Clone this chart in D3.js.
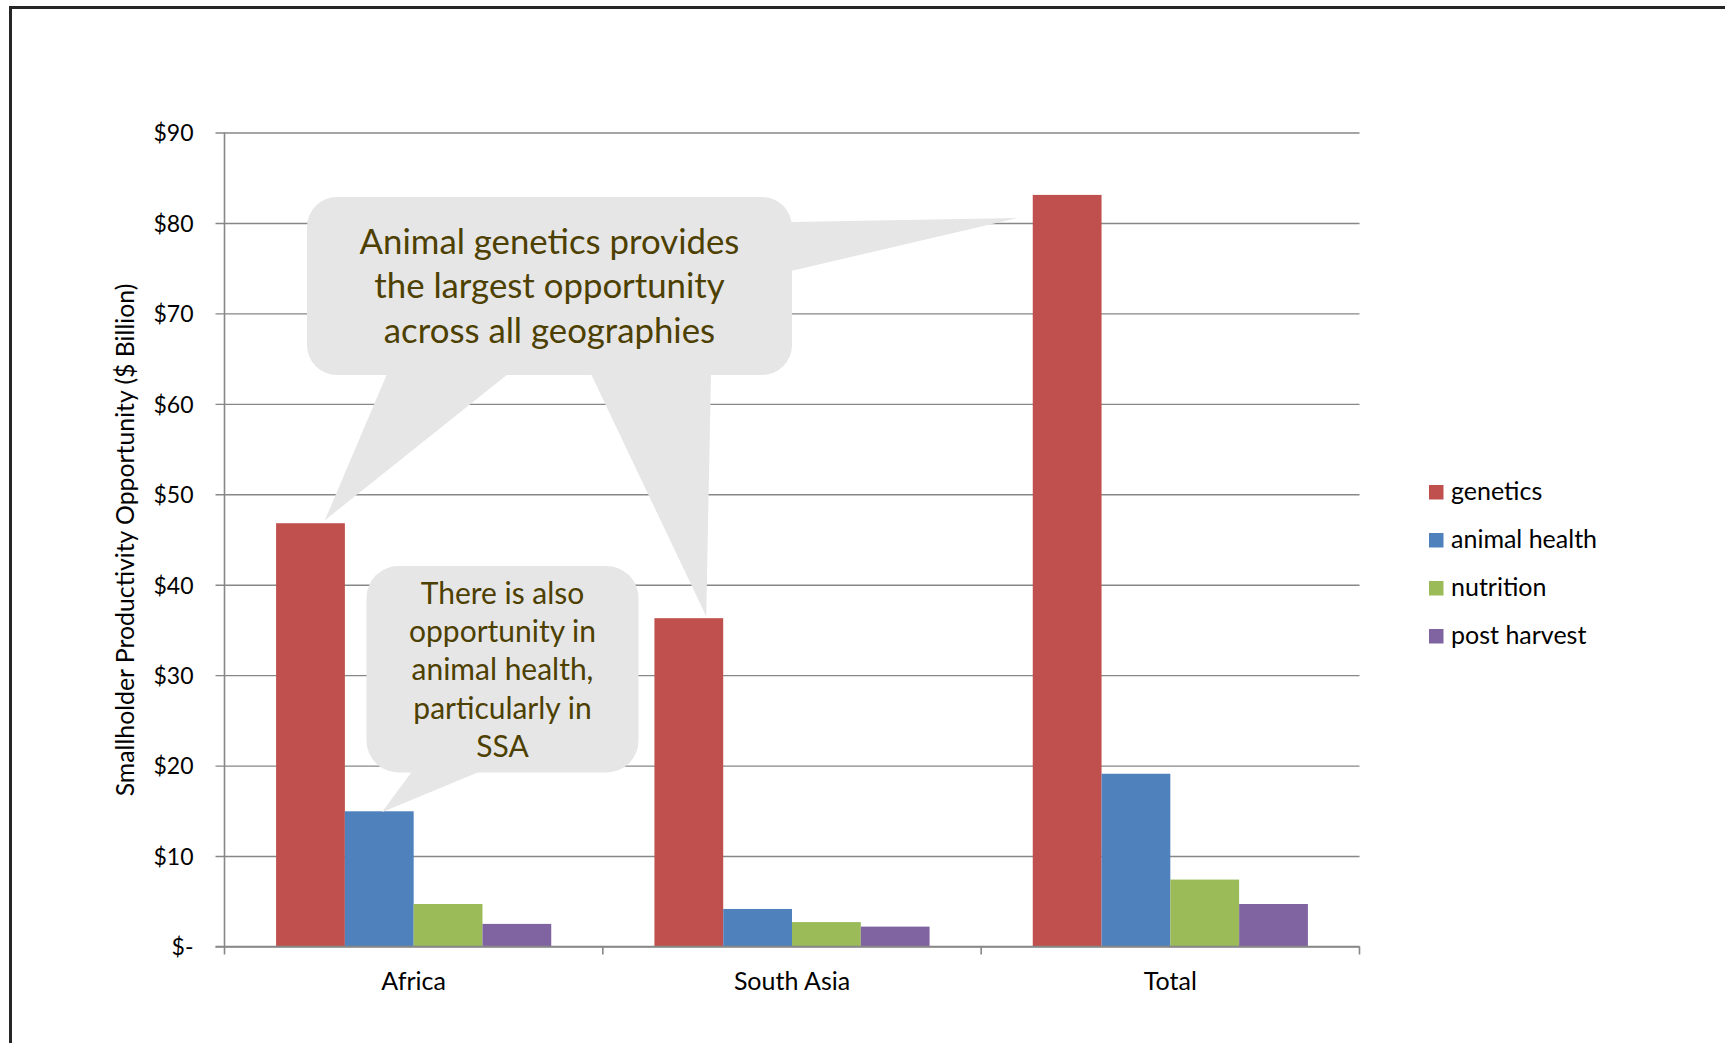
<!DOCTYPE html>
<html>
<head>
<meta charset="utf-8">
<script src="https://cdn.jsdelivr.net/npm/d3@7"></script>
<style>
  html, body { margin: 0; padding: 0; background: #ffffff; }
  svg { display: block; }
  text { font-family: Lato, "Open Sans", sans-serif; }
</style>
</head>
<body>
<svg id="chart" width="1725" height="1043"></svg>
<script>
// ---- data ----
const categories = ["Africa", "South Asia", "Total"];
const seriesNames = ["genetics", "animal health", "nutrition", "post harvest"];
const genetics = [46.8, 36.3, 83.1];
const animalHealth = [14.95, 4.15, 19.1];
const nutrition = [4.7, 2.7, 7.4];
const postHarvest = [2.5, 2.2, 4.7];
const seriesColors = ["#C0504D", "#4F81BD", "#9BBB59", "#8064A2"];
const yTickValues = [0, 10, 20, 30, 40, 50, 60, 70, 80, 90];
const yTickLabels = ["$-", "$10", "$20", "$30", "$40", "$50", "$60", "$70", "$80", "$90"];
const yAxisTitle = "Smallholder Productivity Opportunity ($ Billion)";
const mainCalloutLines = ["Animal genetics provides", "the largest opportunity", "across all geographies"];
const healthCalloutLines = ["There is also", "opportunity in", "animal health,", "particularly in", "SSA"];

const seriesValues = [genetics, animalHealth, nutrition, postHarvest];

// ---- layout ----
const W = 1725, H = 1043;
const plot = { left: 224.5, right: 1359.5, top: 132.5, bottom: 946.5 };
const FONT = "Lato, 'Open Sans', sans-serif";
const calloutFill = "#E6E6E6";
const calloutText = "#4D4000";
const gridColor = "#878787";

const svg = d3.select("#chart");

// outer chart-area frame (right and bottom edges run off the page)
svg.append("rect")
  .attr("x", 10.5).attr("y", 7.5)
  .attr("width", W + 20).attr("height", H + 20)
  .attr("fill", "none").attr("stroke", "#262626").attr("stroke-width", 3);

const x0 = d3.scaleBand().domain(categories)
  .range([plot.left, plot.right]).paddingInner(0).paddingOuter(0);
const x1 = d3.scaleBand().domain(seriesNames)
  .range([0, x0.bandwidth()]).paddingInner(0).paddingOuter(0.75);
const y = d3.scaleLinear().domain([0, 90]).range([plot.bottom, plot.top]);

// measure helper for fitting text to a width
function fitSize(str, target) {
  const t = svg.append("text").attr("font-family", FONT).attr("font-size", 100).text(str);
  const len = t.node().getComputedTextLength();
  t.remove();
  return 100 * target / len;
}

// ---- gridlines + y axis ----
const yAxis = d3.axisLeft(y)
  .tickValues(yTickValues)
  .tickFormat((d, i) => yTickLabels[i])
  .tickSize(-(plot.right - plot.left) - 9)
  .tickPadding(22);

const gy = svg.append("g")
  .attr("transform", `translate(${plot.right},0)`)
  .call(yAxis);
gy.select(".domain").remove();
gy.selectAll(".tick line")
  .attr("x1", 0).attr("x2", -(plot.right - plot.left) - 9)
  .attr("stroke", gridColor).attr("stroke-width", 1.4);
gy.selectAll(".tick text")
  .attr("x", -(plot.right - plot.left) - 31)
  .attr("font-family", FONT).attr("font-size", 23).attr("fill", "#000")
  .attr("text-anchor", "end").attr("dy", "0.36em");

// vertical axis line
svg.append("line")
  .attr("x1", plot.left).attr("x2", plot.left)
  .attr("y1", plot.top).attr("y2", plot.bottom)
  .attr("stroke", gridColor).attr("stroke-width", 1.6);

// ---- bars ----
const groups = svg.append("g").selectAll("g")
  .data(categories).join("g")
  .attr("transform", d => `translate(${x0(d)},0)`);

groups.selectAll("rect")
  .data((c, ci) => seriesNames.map((s, si) => ({ s, si, v: seriesValues[si][ci] })))
  .join("rect")
  .attr("x", d => x1(d.s))
  .attr("width", x1.bandwidth())
  .attr("y", d => y(d.v))
  .attr("height", d => y(0) - y(d.v))
  .attr("fill", d => seriesColors[d.si]);

// ---- category axis ----
const xAxis = d3.axisBottom(x0).tickSize(0).tickPadding(25.5);
const gx = svg.append("g").attr("transform", `translate(0,${plot.bottom})`).call(xAxis);
gx.select(".domain").remove();
gx.selectAll(".tick text")
  .attr("font-family", FONT).attr("font-size", 25).attr("fill", "#000");

svg.append("line")
  .attr("x1", plot.left - 9).attr("x2", plot.right)
  .attr("y1", plot.bottom).attr("y2", plot.bottom)
  .attr("stroke", gridColor).attr("stroke-width", 1.6);

// tick marks at category boundaries
const boundaries = categories.map(c => x0(c)).concat([x0(categories[categories.length - 1]) + x0.bandwidth()]);
svg.append("g").selectAll("line").data(boundaries).join("line")
  .attr("x1", d => d).attr("x2", d => d)
  .attr("y1", plot.bottom).attr("y2", plot.bottom + 8)
  .attr("stroke", gridColor).attr("stroke-width", 1.6);

// ---- y axis title ----
svg.append("text")
  .attr("transform", `translate(125,540) rotate(-90)`)
  .attr("text-anchor", "middle")
  .attr("dy", "0.35em")
  .attr("font-family", FONT)
  .attr("font-size", fitSize(yAxisTitle, 513))
  .attr("fill", "#000")
  .text(yAxisTitle);

// ---- callouts ----
function roundedRect(x, yy, w, h, r) {
  return `M${x + r},${yy}H${x + w - r}A${r},${r} 0 0 1 ${x + w},${yy + r}` +
    `V${yy + h - r}A${r},${r} 0 0 1 ${x + w - r},${yy + h}` +
    `H${x + r}A${r},${r} 0 0 1 ${x},${yy + h - r}V${yy + r}A${r},${r} 0 0 1 ${x + r},${yy}Z`;
}
function tri(a, b, c) { return `M${a[0]},${a[1]}L${b[0]},${b[1]}L${c[0]},${c[1]}Z`; }

function barLeft(cat, ser) { return x0(cat) + x1(ser); }
const bw = x1.bandwidth();

// main callout
const mc = { x: 307, y: 197, w: 485, h: 178, r: 30 };
const layerMain = svg.append("g");
const tipA = [barLeft("Africa", "genetics") + bw - 20, y(genetics[0]) - 3];
const tipB = [barLeft("South Asia", "genetics") + bw - 17, y(genetics[1]) - 2];
const tipC = [barLeft("Total", "genetics") - 15, y(genetics[2]) + 23];
layerMain.append("path").attr("d", tri([387, mc.y + mc.h - 1], [508, mc.y + mc.h - 1], tipA)).attr("fill", calloutFill);
layerMain.append("path").attr("d", tri([591, mc.y + mc.h - 1], [711, mc.y + mc.h - 1], tipB)).attr("fill", calloutFill);
layerMain.append("path").attr("d", tri([mc.x + mc.w - 1, 222], [mc.x + mc.w - 1, 271], tipC)).attr("fill", calloutFill);
layerMain.append("path").attr("d", roundedRect(mc.x, mc.y, mc.w, mc.h, mc.r)).attr("fill", calloutFill);
const mainSize = fitSize(mainCalloutLines[0], 380);
layerMain.selectAll("text").data(mainCalloutLines).join("text")
  .attr("x", mc.x + mc.w / 2)
  .attr("y", (d, i) => 254 + i * 44.3)
  .attr("text-anchor", "middle")
  .attr("font-family", FONT).attr("font-size", mainSize)
  .attr("fill", calloutText)
  .text(d => d);

// animal health callout
const hc = { x: 366.5, y: 566, w: 272, h: 206.5, r: 32 };
const layerHealth = svg.append("g");
const tipD = [barLeft("Africa", "animal health") + 37, y(animalHealth[0]) + 1];
layerHealth.append("path").attr("d", tri([412, hc.y + hc.h - 1], [480, hc.y + hc.h - 1], tipD)).attr("fill", calloutFill);
layerHealth.append("path").attr("d", roundedRect(hc.x, hc.y, hc.w, hc.h, hc.r)).attr("fill", calloutFill);
const healthSize = fitSize(healthCalloutLines[1], 187);
layerHealth.selectAll("text").data(healthCalloutLines).join("text")
  .attr("x", hc.x + hc.w / 2)
  .attr("y", (d, i) => 603.5 + i * 38.4)
  .attr("text-anchor", "middle")
  .attr("font-family", FONT).attr("font-size", healthSize)
  .attr("fill", calloutText)
  .text(d => d);

// ---- legend ----
const legend = svg.append("g").attr("transform", "translate(1429,485)");
const items = legend.selectAll("g").data(seriesNames).join("g")
  .attr("transform", (d, i) => `translate(0,${i * 48})`);
items.append("rect").attr("width", 14.5).attr("height", 14.5)
  .attr("fill", (d, i) => seriesColors[i]);
items.append("text").attr("x", 22).attr("y", 15)
  .attr("font-family", FONT).attr("font-size", 25).attr("fill", "#000")
  .text(d => d);
</script>
</body>
</html>
